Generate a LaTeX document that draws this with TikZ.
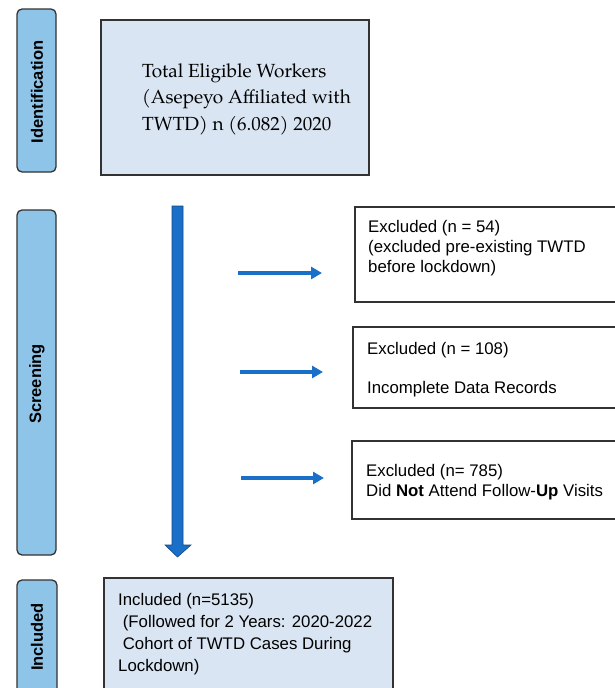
\documentclass[tikz,border=0pt]{standalone}
\usepackage{fontspec}
\setmainfont{Liberation Sans}
\newfontfamily\serifbox{TeX Gyre Pagella}
\usetikzlibrary{arrows.meta}
\definecolor{sidefill}{RGB}{142,196,232}
\definecolor{mainfill}{RGB}{218,229,243}
\definecolor{edgegray}{RGB}{50,50,50}
\definecolor{arrowblue}{RGB}{26,112,200}
\definecolor{arrowedge}{RGB}{20,70,130}
\tikzset{
  sidebox/.style={draw=edgegray, line width=1.3pt, fill=sidefill, rounded corners=5pt},
  mainbox/.style={draw=edgegray, line width=1.2pt, fill=mainfill},
  exbox/.style={draw=edgegray, line width=1.2pt, fill=white},
  sidelabel/.style={rotate=90, font=\fontsize{16.5}{18}\selectfont\bfseries, inner sep=0pt},
  txt/.style={anchor=base west, align=left, inner sep=0pt, font=\fontsize{16.8}{20}\selectfont},
  hinarrow/.style={draw=arrowblue, line width=3.2pt, -{Triangle[length=11pt,width=12pt]}, shorten >=0pt},
}
\begin{document}
\begin{tikzpicture}[x=1pt,y=-1pt]
\useasboundingbox (0,0) rectangle (614,688);
% side bars
\draw[sidebox] (17,9) rectangle (56,172);
\node[sidelabel] (lid) at (37,92) {Identification};
\draw[sidebox] (17,210) rectangle (56,555);
\node[sidelabel] (lsc) at (37,384) {Screening};
\draw[sidebox] (17,580) rectangle (57,700);
\node[sidelabel] (lin) at (37,637) {Included};
% top box
\draw[mainbox] (101,20) rectangle (369,175);
\node[anchor=base west, align=left, inner sep=0pt, font=\serifbox\fontsize{19}{26.5}\selectfont] (ttop) at (142,130)
  {Total Eligible Workers\\(Asepeyo Affiliated with\\TWTD) n (6.082) 2020};
% excluded boxes
\draw[exbox] (355,207) rectangle (620,302);
\node[txt] (t1) at (368,272) {Excluded (n = 54)\\(excluded pre-existing TWTD\\before lockdown)};
\draw[exbox] (353,327) rectangle (620,408);
\node[txt, font=\fontsize{16.8}{19.5}\selectfont] (t2) at (367,393) {Excluded (n = 108)\\[19.5pt]Incomplete Data Records};
\draw[exbox] (352,441) rectangle (620,519);
\node[txt] (t3) at (366,496) {Excluded (n= 785)\\Did \textbf{Not} Attend Follow-\textbf{Up} Visits};
% included box
\draw[mainbox] (104,578) rectangle (393,700);
\node[txt, font=\fontsize{16.8}{22}\selectfont] (t4) at (118,671) {Included (n=5135)\\\ (Followed for 2 Years: 2020-2022\\\ Cohort of TWTD Cases During\\Lockdown)};
% vertical thick arrow
\coordinate (vs) at (177.5,206);
\coordinate (ve) at (177.5,557);
\draw[fill=arrowblue, draw=arrowedge, line width=0.6pt]
  (172,206) -- (183,206) -- (183,545) -- (191,545) -- (177.5,557) -- (165,545) -- (172,545) -- cycle;
% horizontal arrows
\coordinate (a1s) at (238,273); \coordinate (a1e) at (322,273);
\coordinate (a2s) at (240,372); \coordinate (a2e) at (323,372);
\coordinate (a3s) at (241,478); \coordinate (a3e) at (324,478);
\draw[hinarrow] (a1s) -- (a1e);
\draw[hinarrow] (a2s) -- (a2e);
\draw[hinarrow] (a3s) -- (a3e);
\end{tikzpicture}
\end{document}
